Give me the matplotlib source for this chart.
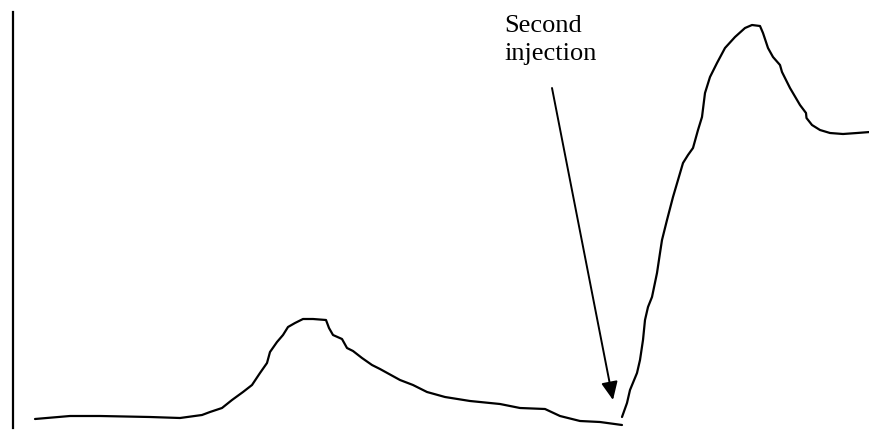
import matplotlib
matplotlib.use("Agg")
import matplotlib.pyplot as plt

# First response curve (x position, signal height)
x1 = [35, 70, 100, 150, 180, 202, 210, 222, 232, 243, 252, 260, 267, 270, 277, 283,
      288, 295, 303, 313, 326, 329, 333, 342, 347, 353, 362, 372, 380, 400, 413, 427,
      445, 470, 500, 520, 545, 560, 580, 600, 622]
y1 = [11, 14, 14, 13, 12, 15, 18, 22, 30, 38, 45, 57, 67, 78, 88, 95,
      103, 107, 111, 111, 110, 102, 95, 91, 82, 79, 72, 65, 61, 50, 45, 38,
      33, 29, 26, 22, 21, 14, 9, 8, 5]

# Second response curve (after second injection)
x2 = [622, 627, 630, 637, 640, 643, 645, 648, 652, 657, 660, 662, 667, 673, 678, 683,
      688, 693, 698, 702, 705, 710, 717, 725, 735, 745, 752, 760, 763, 768, 773, 780,
      782, 790, 800, 806, 806.5, 812, 820, 830, 843, 857, 870]
y2 = [13, 27, 40, 57, 70, 90, 110, 123, 133, 157, 177, 190, 210, 233, 250, 267,
      275, 282, 300, 313, 337, 353, 367, 382, 393, 402, 405, 404, 397, 382, 373, 365,
      358, 342, 325, 317, 312, 305, 300, 297, 296, 297, 298]

label = "Second\ninjection"
arrow_tip = (613, 30)
arrow_start = (552, 342)
label_pos = (504, 415)

fig = plt.figure(figsize=(8.7, 4.3), dpi=100)
ax = fig.add_axes([0, 0, 1, 1])
ax.set_xlim(0, 870)
ax.set_ylim(0, 430)

for xs, ys in ((x1, y1), (x2, y2)):
    ax.plot(xs, ys, color="black", lw=1.6, solid_capstyle="round",
            solid_joinstyle="round")

for s in ["top", "right", "bottom"]:
    ax.spines[s].set_visible(False)
ax.spines["left"].set_position(("data", 13))
ax.spines["left"].set_bounds(2, 418)
ax.spines["left"].set_linewidth(1.6)
ax.set_xticks([])
ax.set_yticks([])

ax.annotate("", xy=arrow_tip, xytext=arrow_start,
            arrowprops=dict(arrowstyle="-|>,head_length=0.55,head_width=0.25",
                            mutation_scale=20, lw=1.4, color="black",
                            shrinkA=0, shrinkB=0))
ax.text(label_pos[0], label_pos[1], label, ha="left", va="top",
        fontsize=19, family="Liberation Serif", linespacing=1.35)

fig.savefig("out.png", dpi=100)
